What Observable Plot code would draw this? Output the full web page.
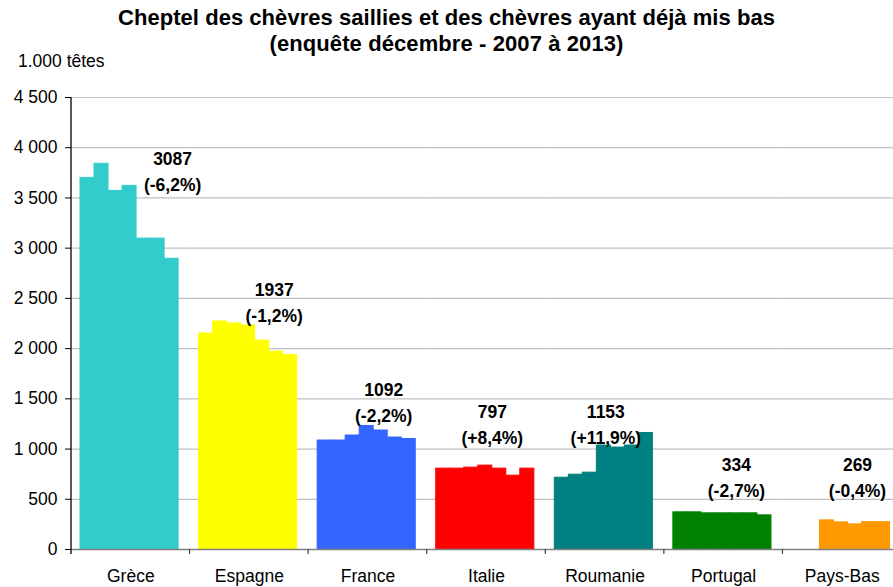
<!DOCTYPE html>
<html>
<head>
<meta charset="utf-8">
<script src="https://cdn.jsdelivr.net/npm/d3@7"></script>
<script src="https://cdn.jsdelivr.net/npm/@observablehq/plot@0.6"></script>
<style>
  html, body { margin: 0; padding: 0; overflow: hidden; background: #fff; }
  #wrap { position: relative; width: 893px; height: 587px; overflow: hidden; background: #fff; }
  #chart { position: absolute; left: 0; top: 0; width: 901px; }
  #chart svg { max-width: none !important; }
  .t { position: absolute; left: 0; width: 893px; text-align: center; white-space: nowrap;
       font-family: "Liberation Sans", Arial, sans-serif; font-weight: bold; font-size: 22px; line-height: 22px; color: #000; }
  #unit { position: absolute; left: 18px; top: 51px; white-space: nowrap;
       font-family: "Liberation Sans", Arial, sans-serif; font-size: 17.5px; color: #000; }
</style>
</head>
<body>
<div id="wrap">
  <div id="chart"></div>
  <div class="t" id="t1" style="top:7px"><span>Cheptel des chèvres saillies et des chèvres ayant déjà mis bas</span></div>
  <div class="t" id="t2" style="top:33px"><span>(enquête décembre - 2007 à 2013)</span></div>
  <div id="unit">1.000 têtes</div>
</div>
<script>
// ---- data ----
const countries = ["Grèce", "Espagne", "France", "Italie", "Roumanie", "Portugal", "Pays-Bas"];
const years = ["2007", "2008", "2009", "2010", "2011", "2012", "2013"];
const grece    = [3700, 3840, 3570, 3620, 3095, 3095, 2895];
const espagne  = [2150, 2270, 2250, 2230, 2080, 1970, 1935];
const france   = [1085, 1085, 1135, 1230, 1185, 1115, 1100];
const italie   = [805, 805, 815, 835, 805, 735, 805];
const roumanie = [715, 745, 765, 1035, 1015, 1035, 1160];
const portugal = [370, 370, 360, 360, 360, 360, 340];
const paysBas  = [null, null, 290, 270, 250, 272, 272];
const labelValues  = ["3087", "1937", "1092", "797", "1153", "334", "269"];
const labelChanges = ["(-6,2%)", "(-1,2%)", "(-2,2%)", "(+8,4%)", "(+11,9%)", "(-2,7%)", "(-0,4%)"];
const colors = ["#33CCCC", "#FFFF00", "#3366FF", "#FF0000", "#008080", "#008000", "#FF9900"];
const yTicks = [0, 500, 1000, 1500, 2000, 2500, 3000, 3500, 4000, 4500];

const series = [grece, espagne, france, italie, roumanie, portugal, paysBas];
const table = countries.flatMap((c, i) => years.map((yr, j) => ({country: c, year: yr, value: series[i][j]})));

// annotation placement (layout)
const labelLayout = [
  {year: "2013", y: 3778, dx: 1},
  {year: "2012", y: 2474, dx: -2},
  {year: "2011", y: 1478, dx: 3},
  {year: "2010", y: 1259, dx: 7},
  {year: "2010", y: 1259, dx: 2},
  {year: "2011", y: 737, dx: 0},
  {year: "2011", y: 737, dx: 2.5}
];

const fmt = d => d3.format(",")(d).replace(/,/g, " ");

const labelMarks = countries.map((c, i) => Plot.text([{
    country: c, year: labelLayout[i].year, y: labelLayout[i].y,
    text: labelValues[i] + "\n" + labelChanges[i]
  }], {
    fx: "country", x: "year", y: "y", text: "text",
    dx: labelLayout[i].dx, fontWeight: "bold", lineHeight: 1.49, fill: "#000"
  }));

const plot = Plot.plot({
  width: 901, height: 587,
  marginLeft: 71, marginRight: 0, marginTop: 97, marginBottom: 38,
  style: {fontFamily: "'Liberation Sans', Arial, sans-serif", fontSize: "17.5px", background: "transparent", color: "#000", maxWidth: "none"},
  fx: {domain: countries, padding: 0, round: false, axis: "bottom", tickSize: 0, tickPadding: 20, label: null},
  x: {domain: years, paddingInner: 0, paddingOuter: 0.73, align: 0.44, round: false, axis: null},
  y: {domain: [0, 4500], ticks: yTicks, tickSize: 6, tickPadding: 8, tickFormat: fmt, label: null},
  color: {domain: countries, range: colors},
  marks: [
    Plot.ruleY(yTicks.filter(d => d > 0), {stroke: "#c0c0c0", strokeWidth: 1.2}),
    Plot.barY(table, {fx: "country", x: "year", y: "value", fill: "country", stroke: "country", strokeWidth: 1}),
    Plot.ruleY([0], {stroke: "#808080", strokeWidth: 1.3}),
    ...labelMarks
  ]
});

// category boundary ticks and vertical axis line, from the plot's own scales
const fxS = plot.scale("fx"), yS = plot.scale("y");
const svg = d3.select(plot);
svg.style("max-width", "none").attr("width", 901).attr("height", 587);
const g = svg.append("g");
const y0 = yS.apply(0);
const x0 = fxS.apply(countries[0]);
const bounds = countries.map(c => fxS.apply(c)).concat([fxS.apply(countries[countries.length - 1]) + fxS.bandwidth]);
bounds.slice(1).forEach(b => {
  g.append("line").attr("x1", b).attr("x2", b).attr("y1", y0).attr("y2", y0 + 5)
    .attr("stroke", "#404040").attr("stroke-width", 1.2);
});
g.append("line").attr("x1", x0).attr("x2", x0).attr("y1", yS.apply(4500)).attr("y2", y0 + 5)
  .attr("stroke", "#000").attr("stroke-width", 1.3);

document.getElementById("chart").appendChild(plot);

// fit title lines to reference widths
function fit(id, target) {
  const span = document.querySelector("#" + id + " span");
  const w = span.getBoundingClientRect().width;
  const n = span.textContent.length;
  span.style.letterSpacing = ((target - w) / n) + "px";
}
fit("t1", 657);
fit("t2", 354);
</script>
</body>
</html>
